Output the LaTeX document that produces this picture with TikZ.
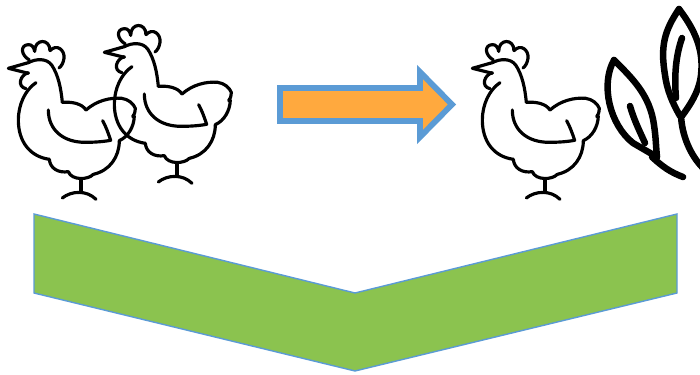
\documentclass[tikz,border=0pt]{standalone}
\usepackage{tikz}
\usetikzlibrary{calc}
\usepackage{xcolor}
\definecolor{edgeBlue}{HTML}{5B9BD5}
\definecolor{arrowOrange}{HTML}{FFA93E}
\definecolor{grassGreen}{HTML}{8BC34F}

\begin{document}
\begin{tikzpicture}[
    x=0.02cm, y=-0.02cm,
    inkLine/.style={draw=black, line width=1.8pt, line cap=round, line join=round},
    leafLine/.style={draw=black, line width=3.7pt, line cap=round, line join=round},
    chicken/.pic={
        % comb
        \draw[inkLine] (88,150) .. controls (62,135) and (60,105) .. (85,104) .. controls (95,103) and (102,112) .. (104,124);
        \draw[inkLine] (104,124) .. controls (104,85) and (150,85) .. (150,122);
        \draw[inkLine] (150,122) .. controls (170,100) and (195,120) .. (192,145) .. controls (190,158) and (185,168) .. (177,174);
        % head and neck
        \draw[inkLine] (85,158) .. controls (110,145) and (140,145) .. (155,165) .. controls (175,195) and (183,235) .. (187,277);
        % back and tail
        \draw[inkLine] (187,277) .. controls (215,275) and (245,280) .. (258,300);
        \draw[inkLine] (258,300) .. controls (290,272) and (330,262) .. (365,265) .. controls (385,268) and (400,280) .. (406,295) .. controls (405,308) and (403,315) .. (398,320);
        \draw[inkLine] (403,318) .. controls (402,350) and (385,380) .. (358,392);
        % belly
        \draw[inkLine] (358,392) .. controls (358,440) and (330,482) .. (280,493);
        \draw[inkLine] (280,493) .. controls (265,510) and (215,512) .. (205,485);
        \draw[inkLine] (205,485) .. controls (175,490) and (150,475) .. (148,448);
        \draw[inkLine] (148,448) .. controls (90,440) and (55,395) .. (55,330) .. controls (55,285) and (75,240) .. (108,218);
        % beak and chin
        \draw[inkLine] (85,158) -- (25,175) -- (85,190);
        \draw[inkLine] (85,188) .. controls (60,195) and (50,230) .. (78,236);
        % wing
        \draw[inkLine] (145,300) .. controls (145,360) and (190,397) .. (255,397) .. controls (285,397) and (310,395) .. (332,391) .. controls (325,370) and (318,350) .. (308,332);
        % legs
        \draw[inkLine] (243,507) -- (243,547);
        \draw[inkLine] (187,564) .. controls (215,542) and (260,540) .. (288,568);
    }
]
    \useasboundingbox (0,0) rectangle (700,375);

    \pic[shift={(0,10)}, scale=0.3333] at (0,0) {chicken};
    \pic[shift={(96,-6)}, scale=0.3333] at (0,0) {chicken};
    \pic[shift={(464,10)}, scale=0.3333] at (0,0) {chicken};

    % arrow
    \draw[draw=edgeBlue, fill=arrowOrange, line width=3.3pt, miter limit=10]
        (280,88) -- (420,88) -- (420,72) -- (452,104.5) -- (420,137) -- (420,121) -- (280,121) -- cycle;

    % left leaf
    \draw[leafLine] (614,60) .. controls (632,78) and (650,95) .. (654,125) .. controls (656,138) and (656,148) .. (657,157);
    \draw[leafLine] (614,60) .. controls (600,85) and (610,125) .. (633,143) -- (657,157);
    \draw[leafLine] (630,106) .. controls (634,120) and (640,132) .. (645,143);
    \draw[leafLine] (652,157) .. controls (663,167) and (670,172) .. (683,177);
    % right leaf
    \draw[leafLine] (679,9) .. controls (665,30) and (660,45) .. (665,75) .. controls (667,90) and (672,102) .. (680,116);
    \draw[leafLine] (679,9) .. controls (695,30) and (704,50) .. (701,75) .. controls (699,92) and (690,105) .. (682,116);
    \draw[leafLine] (682,38) .. controls (676,55) and (674,75) .. (676,98);
    \draw[leafLine] (681,116) .. controls (682,135) and (690,155) .. (703,168);

    % chevron
    \draw[draw=edgeBlue, fill=grassGreen, line width=0.8pt, line join=miter]
        (34,214) -- (355,293) -- (677,214) -- (677,293) -- (355,371) -- (34,293) -- cycle;
\end{tikzpicture}
\end{document}
